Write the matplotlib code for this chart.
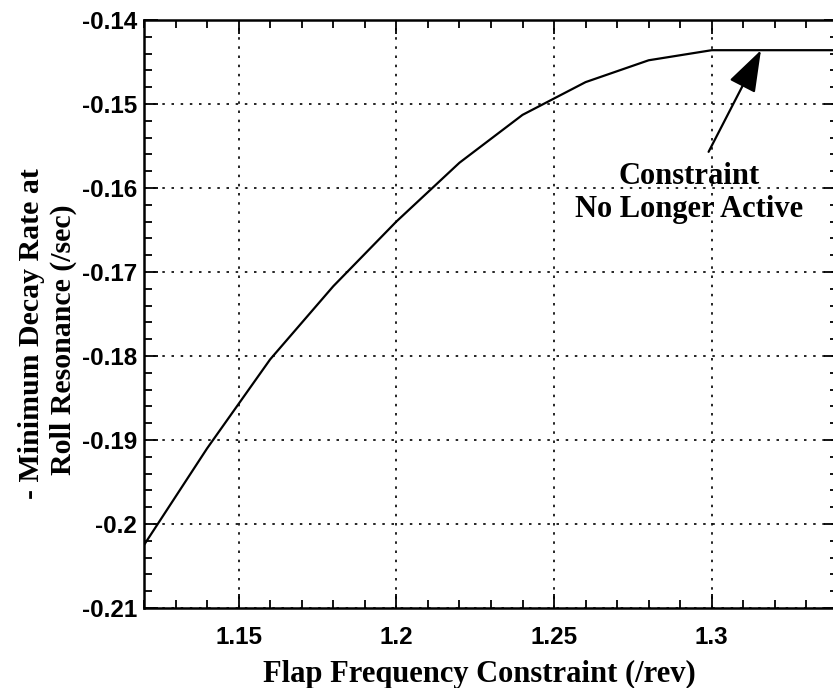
import matplotlib
matplotlib.use("Agg")
import matplotlib.pyplot as plt
from matplotlib.ticker import MultipleLocator

# flap frequency constraint (/rev) vs minimum decay rate at roll resonance (/sec)
flap_freq = [1.12, 1.14, 1.16, 1.18, 1.20, 1.22, 1.24, 1.26, 1.28, 1.30, 1.32, 1.34]
decay_rate = [-0.2025, -0.1910, -0.1804, -0.1717, -0.1640, -0.1570, -0.1513,
              -0.1474, -0.1448, -0.1436, -0.1436, -0.1436]

x_ticks = [1.15, 1.2, 1.25, 1.3]
x_ticklabels = ["1.15", "1.2", "1.25", "1.3"]
y_ticks = [-0.21, -0.2, -0.19, -0.18, -0.17, -0.16, -0.15, -0.14]
y_ticklabels = ["-0.21", "-0.2", "-0.19", "-0.18", "-0.17", "-0.16", "-0.15", "-0.14"]

serif = ["Liberation Serif", "DejaVu Serif"]
sans = ["Liberation Sans", "DejaVu Sans"]

fig = plt.figure(figsize=(8.33, 6.88), dpi=100)
ax = fig.add_axes([0.1729, 0.1163, 0.833, 0.8547])

ax.plot(flap_freq, decay_rate, color="black", lw=1.6)

ax.set_xlim(1.12, 1.34)
ax.set_ylim(-0.21, -0.14)
ax.set_xticks(x_ticks)
ax.set_xticklabels(x_ticklabels)
ax.set_yticks(y_ticks)
ax.set_yticklabels(y_ticklabels)
ax.xaxis.set_minor_locator(MultipleLocator(0.01))
ax.yaxis.set_minor_locator(MultipleLocator(0.002))

ax.tick_params(which="both", direction="in", top=True, right=True, width=1.3, colors="black")
ax.tick_params(which="major", length=10)
ax.tick_params(which="minor", length=6)
ax.tick_params(axis="x", which="major", pad=13)
ax.tick_params(axis="y", which="major", pad=5)
for lab in ax.get_xticklabels() + ax.get_yticklabels():
    lab.set_fontfamily(sans)
    lab.set_fontweight("bold")
    lab.set_fontsize(17.5)

for sp in ax.spines.values():
    sp.set_linewidth(1.8)

ax.grid(True, which="major", color="black", linestyle=(0, (1.5, 4)), linewidth=1.2)

ax.set_xlabel("Flap Frequency Constraint (/rev)", fontfamily=serif,
              fontweight="bold", fontsize=22, labelpad=8)
ax.xaxis.label.set_x(0.483)

# two-line y label, each line placed on its own
fig.text(0.038, 0.5145, "- Minimum Decay Rate at", rotation=90, ha="center",
         va="center", fontfamily=serif, fontweight="bold", fontsize=21.5)
fig.text(0.0765, 0.506, "Roll Resonance (/sec)", rotation=90, ha="center",
         va="center", fontfamily=serif, fontweight="bold", fontsize=21.5)

ax.annotate("", xy=(1.3156, -0.1436), xytext=(1.299, -0.1557),
            arrowprops=dict(arrowstyle="-|>,head_length=1.3,head_width=0.45",
                            mutation_scale=20, color="black", lw=1.6,
                            shrinkA=0, shrinkB=0))
ax.text(1.2928, -0.1606, "Constraint\nNo Longer Active", ha="center", va="center",
        fontfamily=serif, fontweight="bold", fontsize=22, linespacing=1.15)

fig.savefig("out.png", dpi=100)
